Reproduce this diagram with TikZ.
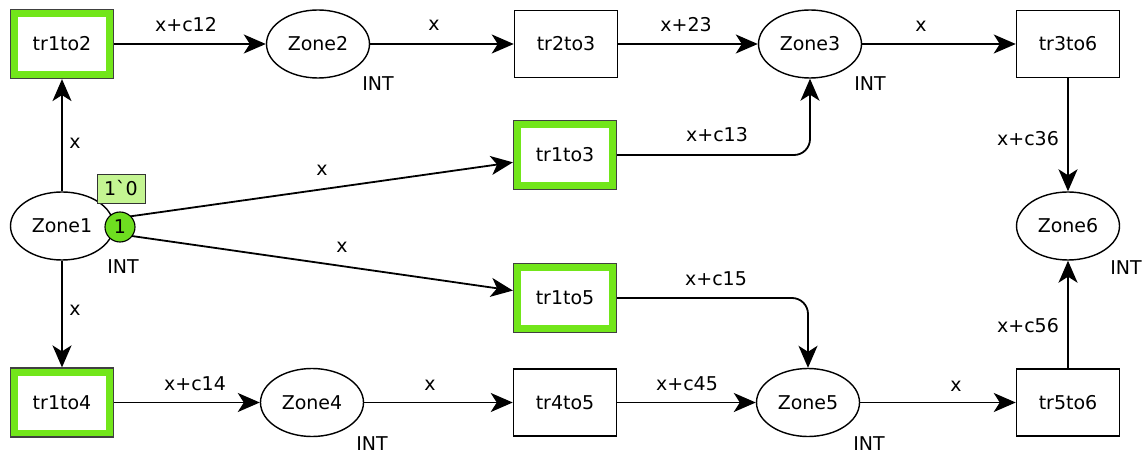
\documentclass[tikz,border=0pt]{standalone}
\usepackage{fontspec}
\setmainfont{DejaVu Sans}[Ligatures=TeXOff]
\usetikzlibrary{arrows.meta,shapes.geometric}
\definecolor{firegreen}{RGB}{114,230,26}
\definecolor{tokengreen}{RGB}{110,222,32}
\definecolor{marklabel}{RGB}{196,245,146}

\begin{document}
\begin{tikzpicture}[x=1pt,y=-1pt,
  font=\fontsize{19}{22}\selectfont,
  place/.style={ellipse,draw,line width=1.4pt,minimum width=103pt,minimum height=68pt,inner sep=0pt},
  trans/.style={rectangle,draw,line width=1.5pt,minimum width=103pt,minimum height=67pt,inner sep=0pt},
  enabled/.style={trans,draw=black!75,line width=1.2pt,minimum height=69pt,fill=firegreen,
    path picture={\fill[white] ([shift={(7.5pt,7.5pt)}]path picture bounding box.south west)
      rectangle ([shift={(-7.5pt,-7.5pt)}]path picture bounding box.north east);}},
  arc/.style={draw,line width=1.8pt,-{Stealth[length=22pt,width=19pt,inset=6pt]}},
  lbl/.style={anchor=base,inner sep=0pt},
  token/.style={circle,draw,line width=1.1pt,fill=tokengreen,minimum size=30pt,inner sep=0pt},
  marking/.style={rectangle,draw=black!80,line width=0.9pt,fill=marklabel,minimum width=48pt,minimum height=29pt,inner sep=0pt}]

\fill[white] (0,0) rectangle (1148,454);
\useasboundingbox (0,0) rectangle (1148,454);

% places
\node[place] (Zone1) at (62,226) {Zone1};
\node[place] (Zone2) at (318,44) {Zone2};
\node[place] (Zone3) at (810,44) {Zone3};
\node[place] (Zone4) at (312,402.5) {Zone4};
\node[place] (Zone5) at (808,402.5) {Zone5};
\node[place] (Zone6) at (1068,226) {Zone6};

% transitions
\node[enabled] (tr1to2) at (62,44) {tr1to2};
\node[trans] (tr2to3) at (566,44) {tr2to3};
\node[trans] (tr3to6) at (1068,44) {tr3to6};
\node[enabled] (tr1to3) at (565,155) {tr1to3};
\node[enabled] (tr1to5) at (565,298) {tr1to5};
\node[enabled] (tr1to4) at (62,402.5) {tr1to4};
\node[trans] (tr4to5) at (565,402.5) {tr4to5};
\node[trans] (tr5to6) at (1068,402.5) {tr5to6};

% colour set labels
\node[lbl] (t1) at (123,274) {INT};
\node[lbl] (t2) at (378,91) {INT};
\node[lbl] (t3) at (870,91) {INT};
\node[lbl] (t4) at (372,450) {INT};
\node[lbl] (t5) at (869,450) {INT};
\node[lbl] (t6) at (1126,275) {INT};

% arcs
\draw[arc] (Zone1) -- (tr1to2);
\draw[arc] (Zone1) -- (tr1to4);
\draw[arc] (tr1to2) -- (Zone2);
\draw[arc] (Zone2) -- (tr2to3);
\draw[arc] (tr2to3) -- (Zone3);
\draw[arc] (Zone3) -- (tr3to6);
\draw[arc] (tr3to6) -- (Zone6);
\draw[arc] (tr5to6) -- (Zone6);
\draw[arc] (Zone5) -- (tr5to6);
\draw[arc] (tr4to5) -- (Zone5);
\draw[arc] (Zone4) -- (tr4to5);
\draw[arc] (tr1to4) -- (Zone4);
\draw[arc] (Zone1) -- (tr1to3);
\draw[arc] (Zone1) -- (tr1to5);
\draw[arc,rounded corners=16pt] (tr1to3.east) -| (Zone3.south);
\draw[arc,rounded corners=16pt] (tr1to5.east) -| (Zone5.north);

% arc inscriptions
\node[lbl] (a12) at (75,149) {x};
\node[lbl] (a14) at (75,316) {x};
\node[lbl] (b12) at (186,32) {x+c12};
\node[lbl] (b23) at (434,31) {x};
\node[lbl] (c23) at (686,32) {x+23};
\node[lbl] (b36) at (921,32) {x};
\node[lbl] (c36) at (1028,146) {x+c36};
\node[lbl] (c56) at (1028,332) {x+c56};
\node[lbl] (b56) at (956,391) {x};
\node[lbl] (c45) at (687,390) {x+c45};
\node[lbl] (b45) at (430,390) {x};
\node[lbl] (c14) at (195,390) {x+c14};
\node[lbl] (a13) at (322,176) {x};
\node[lbl] (a15) at (342,253) {x};
\node[lbl] (c13) at (717,142) {x+c13};
\node[lbl] (c15) at (716,286) {x+c15};

% current marking of Zone1
\node[token] (tok) at (120,227) {1};
\node[marking] (mk) at (121,188.5) {1`0};
\end{tikzpicture}
\end{document}
